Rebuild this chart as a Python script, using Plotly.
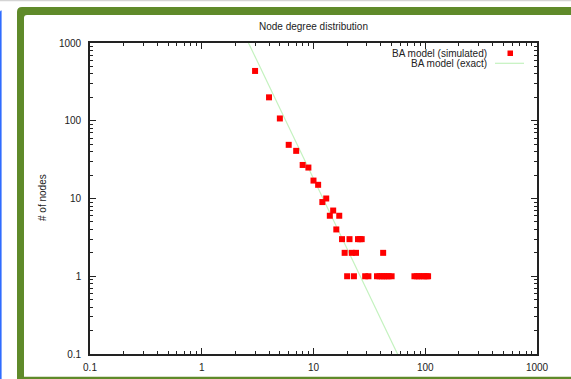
import plotly.graph_objects as go

# Simulated Barabasi-Albert network: node degree k and number of nodes with that degree
degree = [3, 4, 5, 6, 7, 8, 9, 10, 11, 12, 13, 14, 15, 16, 17, 18, 19, 20, 21, 22,
          23, 24, 25, 26, 27, 29, 31, 37, 39, 41, 42, 43, 45, 47, 50,
          80, 84, 88, 93, 98, 103, 106]
node_count = [437, 200, 107, 49, 41, 27, 25, 17, 15, 9, 10, 6, 7, 4, 6, 3, 2, 1, 3, 2,
              1, 2, 3, 3, 3, 1, 1, 1, 1, 1, 2, 1, 1, 1, 1,
              1, 1, 1, 1, 1, 1, 1]

# Exact BA model: n(k) = 2 m^2 N k^-3
m_links = 3
n_nodes = 1000
model_k = [1, 1000]
model_n = [2 * m_links ** 2 * n_nodes / k ** 3 for k in model_k]

tick_vals = [0.1, 1, 10, 100, 1000]
tick_text = ["0.1", "1", "10", "100", "1000"]
minor_vals = [d * 10 ** e for e in range(-1, 3) for d in range(2, 10)]

W, H = 571, 379
L, R, T, B = 90, 537, 43, 354


def px(x):
    return (x - L) / (R - L)


def py(y):
    return (B - y) / (B - T)


FONT = "Liberation Sans, Arial, Helvetica, sans-serif"
INK = "#222222"
GREEN = "#5f8a2a"

fig = go.Figure()
fig.add_trace(go.Scatter(
    x=model_k, y=model_n, mode="lines",
    line=dict(color="#c4f2bf", width=1.2),
    name="BA model (exact)", showlegend=False, hoverinfo="skip",
))
fig.add_trace(go.Scatter(
    x=degree, y=node_count, mode="markers",
    marker=dict(symbol="square", size=6, color="#ff0000", line=dict(width=0)),
    name="BA model (simulated)", showlegend=False,
))

axis_common = dict(
    type="log", range=[-1, 3], automargin=False,
    tickvals=tick_vals, ticktext=tick_text,
    ticks="inside", ticklen=6, tickwidth=1, tickcolor=INK,
    minor=dict(tickvals=minor_vals, ticks="inside", ticklen=3.5, tickwidth=1,
               tickcolor=INK, showgrid=False),
    showline=True, linecolor=INK, linewidth=1.6, mirror="ticks",
    showgrid=False, zeroline=False,
    tickfont=dict(family=FONT, size=10, color=INK),
)
fig.update_xaxes(**axis_common, ticklabelstandoff=3)
fig.update_yaxes(**axis_common, ticklabelstandoff=5)

# Page decorations: top rule, blue side strip, green frame with rounded corner
frame_path = (
    f"M {px(17)},{py(379)} L {px(17)},{py(12)} Q {px(17)},{py(7)} {px(22)},{py(7)} "
    f"L {px(571)},{py(7)} L {px(571)},{py(15)} L {px(27)},{py(15)} "
    f"Q {px(24)},{py(15)} {px(24)},{py(18)} L {px(24)},{py(376.7)} "
    f"L {px(571)},{py(376.7)} L {px(571)},{py(379)} Z"
)
shapes = [
    dict(type="rect", xref="paper", yref="paper", x0=px(0), x1=px(571), y0=py(0), y1=py(1.3),
         fillcolor="#d4d4d4", line=dict(width=0)),
    dict(type="path", xref="paper", yref="paper",
         path=f"M {px(0)},{py(379)} L {px(0)},{py(12)} Q {px(0)},{py(10)} {px(1.6)},{py(10.5)} "
              f"L {px(1.6)},{py(379)} Z",
         fillcolor="#2f6cff", line=dict(width=0)),
    dict(type="path", xref="paper", yref="paper", path=frame_path,
         fillcolor=GREEN, line=dict(width=0)),
    # legend samples
    dict(type="rect", xref="paper", yref="paper", x0=px(507.5), x1=px(513), y0=py(50.5), y1=py(56),
         fillcolor="#ff0000", line=dict(width=0)),
    dict(type="line", xref="paper", yref="paper", x0=px(495), x1=px(524), y0=py(63.3), y1=py(63.3),
         line=dict(color="#c4f2bf", width=1.2)),
]

annotations = [
    dict(text="Node degree distribution", x=px(313), y=py(26), xref="paper", yref="paper",
         xanchor="center", yanchor="middle", showarrow=False,
         font=dict(family=FONT, size=10, color=INK)),
    dict(text="# of nodes", x=px(42), y=py(198), xref="paper", yref="paper", textangle=-90,
         xanchor="center", yanchor="middle", showarrow=False,
         font=dict(family=FONT, size=10, color=INK)),
    dict(text="BA model (simulated)", x=px(489), y=py(53), xref="paper", yref="paper",
         xanchor="right", yanchor="middle", showarrow=False,
         font=dict(family=FONT, size=10, color=INK)),
    dict(text="BA model (exact)", x=px(489), y=py(63.3), xref="paper", yref="paper",
         xanchor="right", yanchor="middle", showarrow=False,
         font=dict(family=FONT, size=10, color=INK)),
]

fig.update_layout(
    width=W, height=H,
    margin=dict(l=L, r=W - R, t=T, b=H - B, pad=0, autoexpand=False),
    paper_bgcolor="white", plot_bgcolor="white",
    showlegend=False,
    shapes=shapes, annotations=annotations,
)

fig.write_html("out.html")
